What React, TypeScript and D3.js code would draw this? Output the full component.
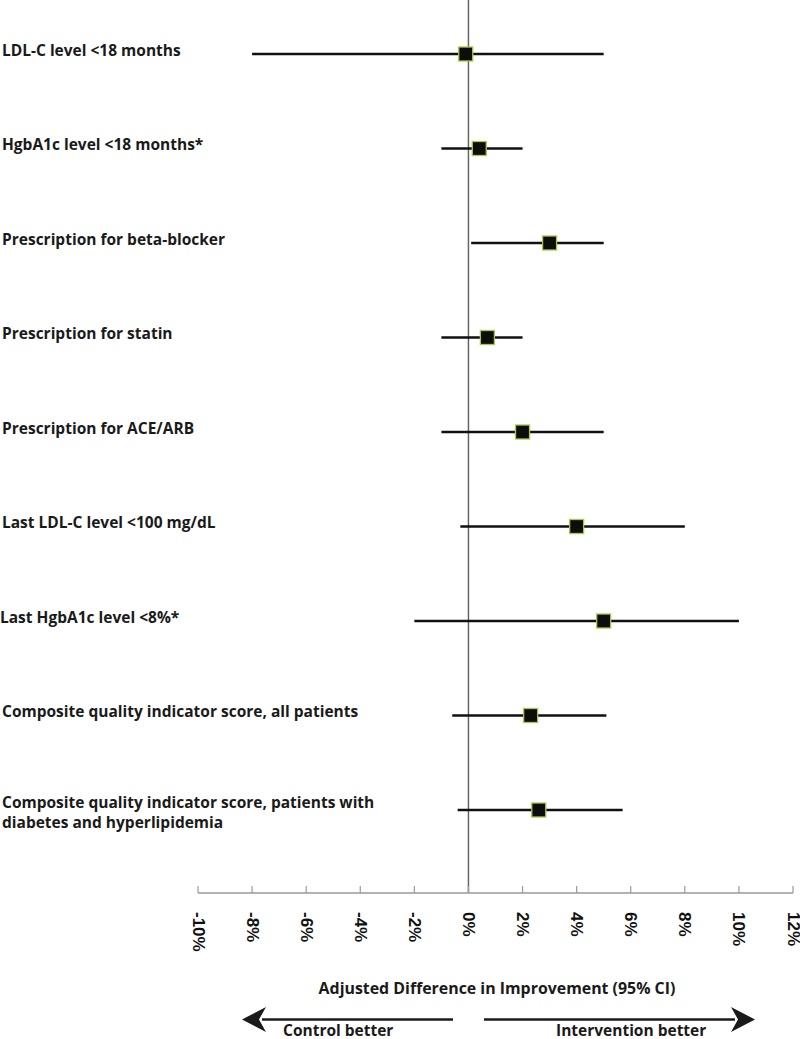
import React from "react";
import * as d3 from "d3";

const categories = [
  ["LDL-C level <18 months"],
  ["HgbA1c level <18 months*"],
  ["Prescription for beta-blocker"],
  ["Prescription for statin"],
  ["Prescription for ACE/ARB"],
  ["Last LDL-C level <100 mg/dL"],
  ["Last HgbA1c level <8%*"],
  ["Composite quality indicator score, all patients"],
  ["Composite quality indicator score, patients with", "diabetes and hyperlipidemia"],
];
const estimates = [-0.1, 0.4, 3.0, 0.7, 2.0, 4.0, 5.0, 2.3, 2.6];
const lower = [-8, -1, 0.1, -1, -1, -0.3, -2, -0.6, -0.4];
const upper = [5, 2, 5, 2, 5, 8, 10, 5.1, 5.7];
const tickValues = [-10, -8, -6, -4, -2, 0, 2, 4, 6, 8, 10, 12];

const W = 800;
const H = 1039;

export default function App() {
  const x = d3.scaleLinear().domain([-10, 12]).range([198, 793]);
  const y = d3.scaleLinear().domain([0, 8]).range([54, 810]);
  const axisY = 893;
  const labelFont = "'Open Sans', 'Lato', sans-serif";
  const tickFont = "'Liberation Sans', Arial, sans-serif";
  const sq = 14;

  return (
    <svg width={W} height={H} style={{ position: "absolute", left: 0, top: 0, background: "#fff" }}>
      {/* zero line */}
      <line x1={x(0)} x2={x(0)} y1={0} y2={axisY} stroke="#666" strokeWidth={1.5} />
      {/* axis */}
      <line x1={x(-10)} x2={x(12)} y1={axisY} y2={axisY} stroke="#999" strokeWidth={1.5} />
      {tickValues.map((t) => (
        <g key={t}>
          <line x1={x(t)} x2={x(t)} y1={axisY - 7} y2={axisY} stroke="#999" strokeWidth={1.2} />
          <text
            transform={`translate(${x(t)},${912}) rotate(90)`}
            dominantBaseline="central"
            fontFamily={tickFont}
            fontWeight={700}
            fontSize={17}
            fill="#111"
          >
            {`${t}%`}
          </text>
        </g>
      ))}
      {categories.map((lines, i) => (
        <g key={i}>
          <text
            x={i === 6 ? 0 : 2}
            y={lines.length > 1 ? y(i) - 2 : y(i) + 1.5}
            fontFamily={labelFont}
            fontWeight={700}
            fontSize={15.5}
            fill="#1a1a1a"
          >
            {lines.map((l, j) => (
              <tspan key={j} x={i === 6 ? 0 : 2} dy={j === 0 ? 0 : 20}>
                {l}
              </tspan>
            ))}
          </text>
          <line x1={x(lower[i])} x2={x(upper[i])} y1={y(i)} y2={y(i)} stroke="#111" strokeWidth={2.5} />
          <rect
            x={x(estimates[i]) - sq / 2}
            y={y(i) - sq / 2}
            width={sq}
            height={sq}
            fill="#0d0d0d"
            stroke="#a6c94a"
            strokeWidth={1.3}
          />
        </g>
      ))}
      <text x={497} y={994} textAnchor="middle" fontFamily={labelFont} fontWeight={700} fontSize={15.9} fill="#1a1a1a">
        Adjusted Difference in Improvement (95% CI)
      </text>
      {/* arrows */}
      <line x1={262} x2={453} y1={1019.5} y2={1019.5} stroke="#1a1a1a" strokeWidth={2.5} />
      <path d="M242,1019.5 L266,1007 L259,1019.5 L266,1032 Z" fill="#1a1a1a" />
      <line x1={484} x2={735} y1={1019.5} y2={1019.5} stroke="#1a1a1a" strokeWidth={2.5} />
      <path d="M755,1019.5 L731,1007 L738,1019.5 L731,1032 Z" fill="#1a1a1a" />
      <text x={283} y={1035.5} fontFamily={labelFont} fontWeight={700} fontSize={15.5} fill="#1a1a1a">
        Control better
      </text>
      <text x={556} y={1035.5} fontFamily={labelFont} fontWeight={700} fontSize={15.5} fill="#1a1a1a">
        Intervention better
      </text>
    </svg>
  );
}
